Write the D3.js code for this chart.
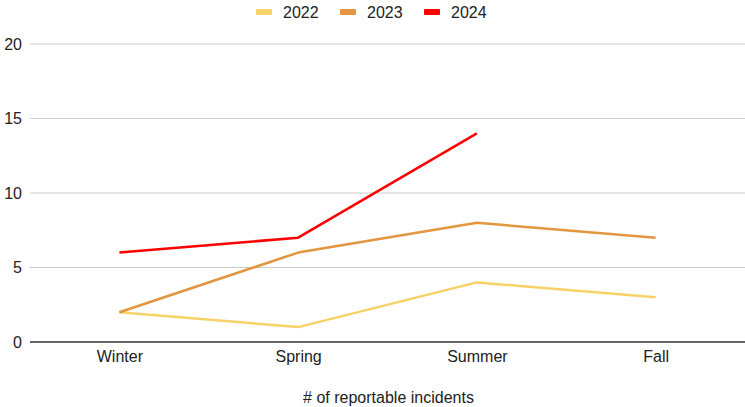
<!DOCTYPE html>
<html><head><meta charset="utf-8">
<script src="https://cdn.jsdelivr.net/npm/d3@7"></script>
<style>body{margin:0;background:#fff;}svg{display:block;font-family:"Liberation Sans",Arial,sans-serif;}</style>
</head><body>
<svg id="c" width="745" height="407"></svg>
<script>
const categories = ["Winter","Spring","Summer","Fall"];
const seriesNames = ["2022","2023","2024"];
const values2022 = [2,1,4,3];
const values2023 = [2,6,8,7];
const values2024 = [6,7,14,null];
const yTicks = [0,5,10,15,20];
const colors = ["#f8d266","#e3953f","#ff0000"];
const xTitle = "# of reportable incidents";

(function(){
const series = [values2022, values2023, values2024];
const svg = d3.select("#c");
const mLeft = 30, mRight = 745, mTop = 44, mBottom = 342;
const x = d3.scalePoint().domain(categories).range([mLeft, mRight]).padding(0.5);
const y = d3.scaleLinear().domain([0,20]).range([mBottom, mTop]);

svg.append("g").selectAll("line").data(yTicks.filter(d=>d>0)).join("line")
  .attr("x1",mLeft).attr("x2",mRight).attr("y1",d=>y(d)).attr("y2",d=>y(d))
  .attr("stroke","#cccccc").attr("stroke-width",1);

const ya = svg.append("g").attr("transform",`translate(${mLeft},0)`)
  .call(d3.axisLeft(y).tickValues(yTicks).tickSize(0).tickPadding(8));
ya.select(".domain").remove();
ya.selectAll("text").attr("font-size",16).attr("fill","#222").attr("font-family","Liberation Sans, Arial, sans-serif");

const xa = svg.append("g").attr("transform",`translate(0,${mBottom})`)
  .call(d3.axisBottom(x).tickSize(0).tickPadding(9));
xa.select(".domain").attr("stroke","#333").attr("stroke-width",1.3).attr("d",`M${mLeft},0H${mRight}`);
xa.selectAll("text").attr("font-size",16).attr("fill","#222").attr("font-family","Liberation Sans, Arial, sans-serif");

const line = d3.line().defined(d=>d.v!=null).x(d=>x(d.c)).y(d=>y(d.v));
series.forEach((vals,i)=>{
  svg.append("path").datum(categories.map((c,j)=>({c,v:vals[j]})))
    .attr("d",line).attr("fill","none").attr("stroke",colors[i])
    .attr("stroke-width",2.5).attr("stroke-linejoin","round");
});

svg.append("text").attr("x",(mLeft+mRight)/2+1).attr("y",403).attr("text-anchor","middle")
  .attr("font-size",16).attr("fill","#222").text(xTitle);

const lx = [256,340,424];
const lg = svg.append("g");
seriesNames.forEach((n,i)=>{
  lg.append("rect").attr("x",lx[i]).attr("y",9).attr("width",16).attr("height",6).attr("rx",1).attr("fill",colors[i]);
  lg.append("text").attr("x",lx[i]+27).attr("y",18).attr("font-size",16).attr("fill","#222").text(n);
});
})();
</script>
</body></html>
